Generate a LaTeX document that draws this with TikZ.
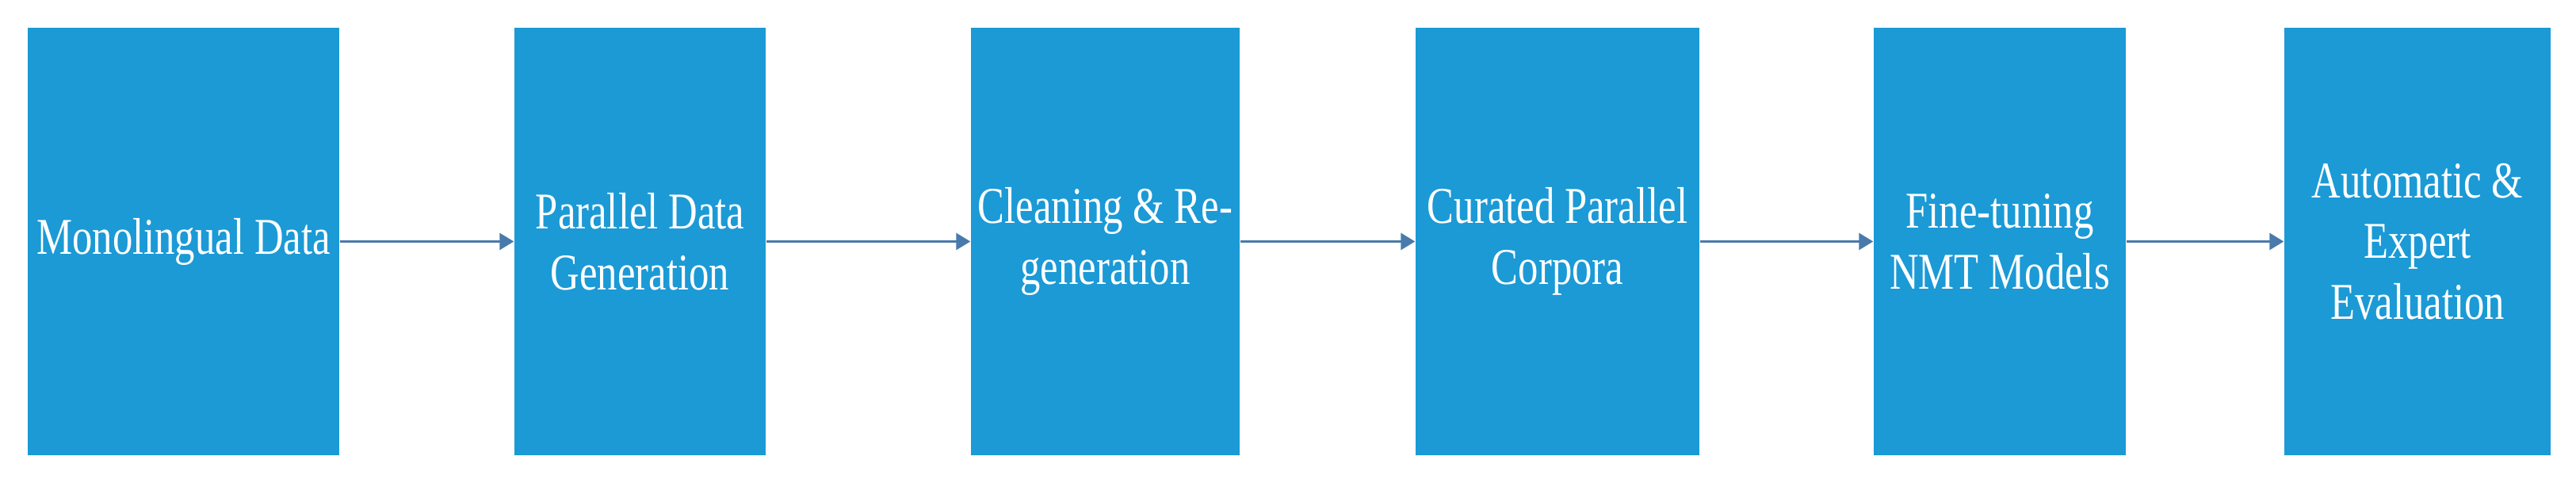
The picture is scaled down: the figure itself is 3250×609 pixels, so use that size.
\documentclass[tikz,border=0pt]{standalone}
\usepackage{fontspec}
\setmainfont{Liberation Serif}[FakeStretch=0.78]
\usetikzlibrary{arrows.meta}
\definecolor{boxblue}{RGB}{27,154,214}
\definecolor{arrowblue}{RGB}{72,122,172}
\tikzset{
  x=0.1mm, y=-0.1mm,
  stagebox/.style={fill=boxblue, draw=none, minimum height=53.9mm, inner sep=0pt,
    text=white, align=center, font=\fontsize{18.5}{21.8}\selectfont},
  flow/.style={draw=arrowblue, line width=0.85pt, -{Triangle[length=1.8mm,width=2.1mm]}}
}
\begin{document}
\begin{tikzpicture}
\fill[white] (0,0) rectangle (3250,609);
\useasboundingbox (0,0) rectangle (3250,609);
\node[stagebox, minimum width=39.3mm] (b1) at (231.5,304.5) {Monolingual Data};
\node[stagebox, minimum width=31.7mm] (b2) at (807.5,304.5) {Parallel Data\\Generation};
\node[stagebox, minimum width=33.9mm] (b3) at (1394.5,304.5) {Cleaning \& Re-\\generation};
\node[stagebox, minimum width=35.8mm] (b4) at (1965,304.5) {Curated Parallel\\Corpora};
\node[stagebox, minimum width=31.8mm] (b5) at (2523,304.5) {Fine-tuning\\NMT Models};
\node[stagebox, minimum width=33.6mm] (b6) at (3050,304.5) {Automatic \&\\Expert\\Evaluation};
\draw[flow] (b1) -- (b2);
\draw[flow] (b2) -- (b3);
\draw[flow] (b3) -- (b4);
\draw[flow] (b4) -- (b5);
\draw[flow] (b5) -- (b6);
\end{tikzpicture}
\end{document}
